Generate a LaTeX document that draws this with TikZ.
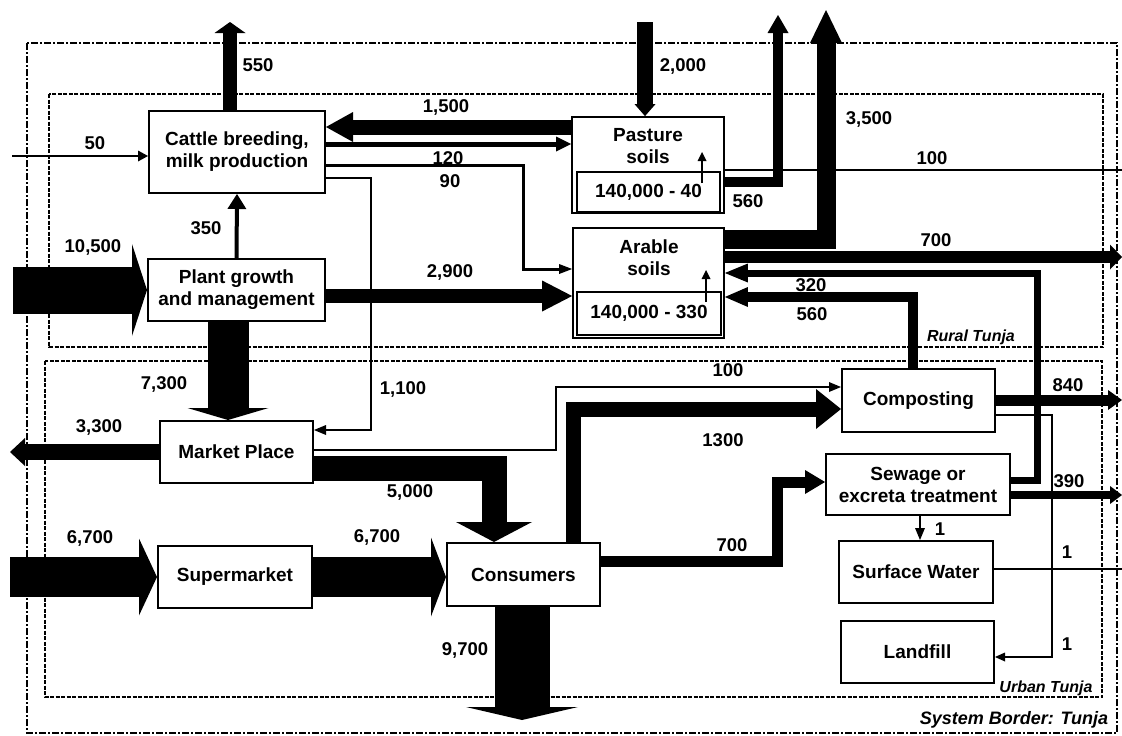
\documentclass[tikz,border=0pt]{standalone}
\usepackage{fontspec}
\setmainfont{Liberation Sans}
\usetikzlibrary{arrows.meta}

\begin{document}
\begin{tikzpicture}[
    x=1pt, y=-1pt,
    box/.style={rectangle, draw, line width=2pt, minimum width=153pt, minimum height=62pt, inner sep=0pt, align=center, font=\fontsize{19}{22}\selectfont\bfseries},
    soil/.style={rectangle, draw, line width=1.8pt, minimum width=152pt, inner sep=0pt},
    stock/.style={rectangle, draw, line width=1.4pt, minimum width=143pt, inner sep=0pt, font=\fontsize{19}{22}\selectfont\bfseries},
    soiltext/.style={align=center, inner sep=0pt, font=\fontsize{19}{22}\selectfont\bfseries},
    lbl/.style={inner sep=0pt, font=\fontsize{18.5}{22}\selectfont\bfseries},
    zone/.style={inner sep=0pt, font=\fontsize{16}{18}\selectfont\bfseries\itshape},
    flow/.style n args={3}{line width=#1, line join=miter, -{Triangle[length=#2, width=#3, line width=0pt]}},
    pipe/.style={line width=#1},
    border/.style={line width=2.5pt, dash pattern=on 7pt off 2pt on 2pt off 2pt},
    region/.style={line width=1.5pt, dash pattern=on 4pt off 1.5pt}
]
    \useasboundingbox (0,0) rectangle (1122,736);

    % borders
    \draw[border] (27,43) rectangle (1117,733);
    \draw[region] (49,94) rectangle (1103,347);
    \draw[region] (45,361) rectangle (1102,697);
    \node[zone] (rural) at (971,337) {Rural Tunja};
    \node[zone] (urban) at (1046,688) {Urban Tunja};
    \node[zone, font=\fontsize{18}{20}\selectfont\bfseries\itshape] (system) at (1014,720) {System Border: Tunja};

    % processes
    \node[box, minimum width=176pt, minimum height=82pt] (cattle) at (237,152) {Cattle breeding,\\milk production};
    \node[box, minimum width=177pt] (plant) at (236.5,290) {Plant growth\\and management};
    \node[box] (market) at (236.5,452) {Market Place};
    \node[box, minimum width=154pt] (supermarket) at (235,577) {Supermarket};
    \node[box, minimum height=63pt] (consumers) at (523.5,574.5) {Consumers};
    \node[box, minimum height=63pt] (composting) at (918.5,400.5) {Composting};
    \node[box, minimum width=184pt, minimum height=61pt] (sewage) at (918,484.5) {Sewage or\\excreta treatment};
    \node[box, minimum width=154pt] (surface) at (916,572) {Surface Water};
    \node[box] (landfill) at (917.5,652) {Landfill};

    % soils with stocks
    \node[soil, minimum height=96pt] (pasture) at (648,165) {};
    \node[soiltext] (pasturetext) at (648,146) {Pasture\\soils};
    \node[stock, minimum height=40pt] (pasturestock) at (648.5,192) {140,000 - 40};
    \node[soil, minimum width=151pt, minimum height=110pt] (arable) at (648.5,283) {};
    \node[soiltext] (arabletext) at (649,258) {Arable\\soils};
    \node[stock, minimum width=144pt, minimum height=43pt] (arablestock) at (649,313.5) {140,000 - 330};

    % free ends
    \coordinate (in50) at (12,156);
    \coordinate (in10500) at (13,290);
    \coordinate (in6700) at (10,577);
    \coordinate (in2000) at (645,22);
    \coordinate (out550) at (230,22);
    \coordinate (out3300) at (10,452);
    \coordinate (out560) at (778,15);
    \coordinate (out3500) at (826,10);
    \coordinate (out100) at (1122,170);
    \coordinate (out700) at (1122,257);
    \coordinate (out840) at (1122,400);
    \coordinate (out390) at (1122,495);
    \coordinate (out1) at (1122,569);
    \coordinate (out9700) at (522,720);
    \coordinate (pgrow) at (702,183);
    \coordinate (agrow) at (706,302);

    % rural flows
    \draw[flow={14pt}{11pt}{31pt}] (cattle.north -| out550) -- (out550);
    \draw[flow={2pt}{10pt}{11pt}] (in50) -- (cattle.west |- in50);
    \draw[flow={15pt}{27pt}{30pt}] (pasture.west |- 0,127) -- (cattle.east |- 0,127);
    \draw[flow={5pt}{15pt}{15pt}] (cattle.east |- 0,144) -- (pasture.west |- 0,144);
    \draw[flow={3pt}{13pt}{10pt}] (cattle.east |- 0,165) -- (523,165) |- (arable.west |- 0,269);
    \draw[flow={2.5pt}{12pt}{10pt}] (cattle.east |- 0,178) -- (371,178) |- (market.east |- 0,430);
    \draw[flow={4pt}{15pt}{19pt}] (plant.north) -- (cattle.south);
    \draw[flow={47pt}{15pt}{92pt}] (in10500) -- (plant.west);
    \draw[flow={14pt}{30pt}{31pt}] (plant.east |- 0,296) -- (arable.west |- 0,296);
    \draw[flow={41pt}{12pt}{81pt}] (plant.south -| 228,0) -- (market.north -| 228,0);
    \draw[flow={16pt}{12pt}{21pt}] (in2000) -- (pasture.north -| in2000);
    \draw[flow={10pt}{18pt}{21pt}] (pasture.east |- 0,182) -| (out560);
    \draw[pipe=2.5pt] (pasture.east |- out100) -- (out100);
    \draw[flow={19pt}{33pt}{32pt}] (arable.east |- 0,239) -| (out3500);
    \draw[flow={12pt}{12pt}{25pt}] (arable.east |- out700) -- (out700);
    \draw[flow={2pt}{9pt}{9pt}] (pgrow) -- ++(0,-31);
    \draw[flow={2pt}{9pt}{9pt}] (agrow) -- ++(0,-32);

    % urban flows
    \draw[flow={16pt}{15pt}{28pt}] (market.west) -- (out3300);
    \draw[flow={2.5pt}{12pt}{10pt}] (market.east |- 0,450) -- (556,450) |- (composting.west |- 0,387);
    \draw[flow={25pt}{20pt}{76pt}] (market.east |- 0,468) -| (consumers.north -| 494,0);
    \draw[flow={40pt}{18pt}{77pt}] (in6700) -- (supermarket.west);
    \draw[flow={40pt}{15pt}{79pt}] (supermarket.east) -- (consumers.west |- supermarket.east);
    \draw[flow={55pt}{13pt}{112pt}] (consumers.south -| out9700) -- (out9700);
    \draw[flow={15pt}{25pt}{40pt}] (consumers.north -| 573,0) |- (composting.west |- 0,409);
    \draw[flow={11pt}{20pt}{24pt}] (consumers.east |- 0,561) -- (777,561) |- (sewage.west |- 0,482);
    \draw[flow={7pt}{23pt}{19pt}] (sewage.east |- 0,480) -- (1037,480) |- (arable.east |- 0,273);
    \draw[flow={10pt}{23pt}{20pt}] (composting.north -| 913,0) |- (arable.east |- 0,297);
    \draw[flow={11pt}{14pt}{20pt}] (composting.east |- out840) -- (out840);
    \draw[flow={2pt}{10pt}{9pt}] (composting.east |- 0,415) -- (1052,415) |- (landfill.east |- 0,657);
    \draw[flow={8pt}{12pt}{18pt}] (sewage.east |- out390) -- (out390);
    \draw[flow={2.5pt}{12pt}{10pt}] (sewage.south -| 920,0) -- (surface.north -| 920,0);
    \draw[pipe=2pt] (surface.east |- out1) -- (out1);

    % flow values
    \node[lbl] (v550) at (258,65) {550};
    \node[lbl] (v50) at (95,143) {50};
    \node[lbl] (v1500) at (446,107) {1,500};
    \node[lbl] (v120) at (448,158) {120};
    \node[lbl] (v90) at (450,181) {90};
    \node[lbl] (v2000) at (683,66) {2,000};
    \node[lbl] (v560a) at (748,201) {560};
    \node[lbl] (v3500) at (869,119) {3,500};
    \node[lbl] (v100a) at (932,158) {100};
    \node[lbl] (v700a) at (936,240) {700};
    \node[lbl] (v350) at (206,228) {350};
    \node[lbl] (v10500) at (93,247) {10,500};
    \node[lbl] (v2900) at (450,272) {2,900};
    \node[lbl] (v320) at (811,285) {320};
    \node[lbl] (v560b) at (812,314) {560};
    \node[lbl] (v7300) at (164,384) {7,300};
    \node[lbl] (v3300) at (99,427) {3,300};
    \node[lbl] (v1100) at (403,389) {1,100};
    \node[lbl] (v100b) at (728,370) {100};
    \node[lbl] (v1300) at (723,440) {1300};
    \node[lbl] (v840) at (1068,385) {840};
    \node[lbl] (v5000) at (410,492) {5,000};
    \node[lbl] (v390) at (1069,481) {390};
    \node[lbl] (v1a) at (940,529) {1};
    \node[lbl] (v1b) at (1067,552) {1};
    \node[lbl] (v1c) at (1067,644) {1};
    \node[lbl] (v6700a) at (90,538) {6,700};
    \node[lbl] (v6700b) at (377,537) {6,700};
    \node[lbl] (v700b) at (732,545) {700};
    \node[lbl] (v9700) at (465,650) {9,700};
\end{tikzpicture}
\end{document}
